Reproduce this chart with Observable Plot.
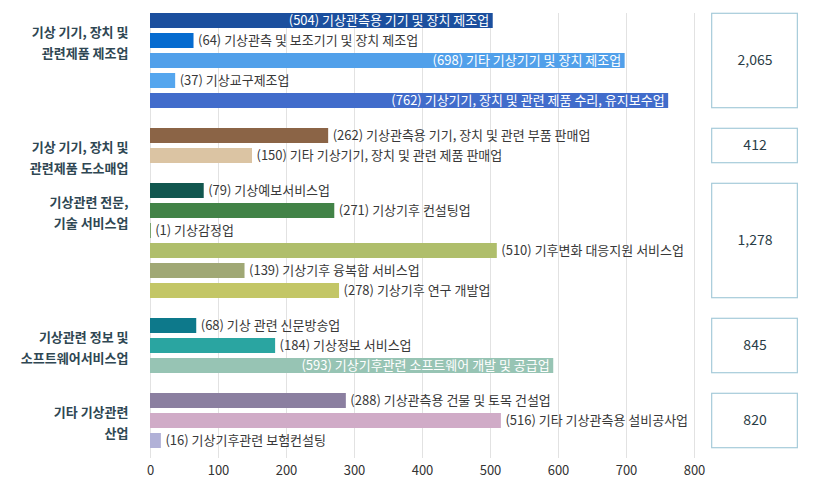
<!DOCTYPE html>
<html><head><meta charset="utf-8">
<script src="https://cdn.jsdelivr.net/npm/d3@7"></script>
<script src="https://cdn.jsdelivr.net/npm/@observablehq/plot@0.6"></script>
<style>body{margin:0;background:#fff;}</style>
</head><body><div id="chart"></div>
<script>
const groupNames = [
  "기상 기기, 장치 및\n관련제품 제조업",
  "기상 기기, 장치 및\n관련제품 도소매업",
  "기상관련 전문,\n기술 서비스업",
  "기상관련 정보 및\n소프트웨어서비스업",
  "기타 기상관련\n산업"
];
const industryGroup = [0,0,0,0,0, 1,1, 2,2,2,2,2,2, 3,3,3, 4,4,4];
const industryNames = [
  "기상관측용 기기 및 장치 제조업",
  "기상관측 및 보조기기 및 장치 제조업",
  "기타 기상기기 및 장치 제조업",
  "기상교구제조업",
  "기상기기, 장치 및 관련 제품 수리, 유지보수업",
  "기상관측용 기기, 장치 및 관련 부품 판매업",
  "기타 기상기기, 장치 및 관련 제품 판매업",
  "기상예보서비스업",
  "기상기후 컨설팅업",
  "기상감정업",
  "기후변화 대응지원 서비스업",
  "기상기후 융복합 서비스업",
  "기상기후 연구 개발업",
  "기상 관련 신문방송업",
  "기상정보 서비스업",
  "기상기후관련 소프트웨어 개발 및 공급업",
  "기상관측용 건물 및 토목 건설업",
  "기타 기상관측용 설비공사업",
  "기상기후관련 보험컨설팅"
];
const counts = [504, 64, 698, 37, 762, 262, 150, 79, 271, 1, 510, 139, 278, 68, 184, 593, 288, 516, 16];
const barColors = [
  "#1b4f9e", "#066bcf", "#51a0ea", "#55a6ee", "#416ccb",
  "#8b6446", "#dbc4a3",
  "#12574f", "#428347", "#4d8a3c", "#afbe6b", "#a0a875", "#c3c666",
  "#0d798b", "#2aa5a1", "#97c4b4",
  "#8b7fa0", "#d0abc7", "#b1b1d7"
];
const insideLabel = [true,false,true,false,true, false,false, false,false,false,false,false,false, false,false,true, false,false,false];
const xTicks = [0, 100, 200, 300, 400, 500, 600, 700, 800];

const GAP = 0.75;
const rows = industryNames.map((name, i) => ({
  name, value: counts[i], group: industryGroup[i],
  pos: i + industryGroup[i] * GAP,
  color: barColors[i], inside: insideLabel[i],
  label: `(${counts[i]}) ${name}`
}));
const groups = groupNames.map((g, k) => {
  const r = rows.filter(d => d.group === k);
  return {name: g, first: d3.min(r, d => d.pos), last: d3.max(r, d => d.pos), total: d3.sum(r, d => d.value)};
});

const chart = Plot.plot({
  width: 820, height: 490,
  marginLeft: 150, marginRight: 126, marginTop: 13, marginBottom: 32,
  style: {fontFamily: '"Noto Sans CJK KR", "Noto Sans", sans-serif', fontSize: "13px", color: "#333", background: "#fff"},
  x: {domain: [0, 800], ticks: xTicks, tickSize: 0, tickPadding: 7, label: null},
  y: {domain: [0, 21], range: [20.5, 440.5], axis: null},
  color: {type: "identity"},
  marks: [
    Plot.gridX(xTicks, {stroke: "#e2e2e2", strokeOpacity: 1}),
    Plot.rect(rows, {x1: 0, x2: "value", y1: d => d.pos - 0.375, y2: d => d.pos + 0.375, fill: "color"}),
    Plot.text(rows.filter(d => !d.inside), {x: "value", y: "pos", text: "label", textAnchor: "start", dx: 4, fill: "#383838", fontSize: 13}),
    Plot.text(rows.filter(d => d.inside), {x: "value", y: "pos", text: "label", textAnchor: "end", dx: -4, fill: "white", fontSize: 13}),
    Plot.text(groups, {x: 0, y: "first", text: "name", textAnchor: "end", lineAnchor: "top", dx: -22, lineHeight: 1.68, fontWeight: 600, fill: "#2f4753", fontSize: 13}),
    Plot.rect(groups, {x1: 826, x2: 952, y1: d => d.first - 0.36, y2: d => d.last + 0.36, fill: "white", stroke: "#a6cbda", strokeWidth: 1.2}),
    Plot.text(groups, {x: 889, y: d => (d.first + d.last) / 2, text: d => d3.format(",")(d.total), fill: "#2a3d47", fontSize: 14})
  ]
});
document.getElementById("chart").append(chart);
</script>
</body></html>
